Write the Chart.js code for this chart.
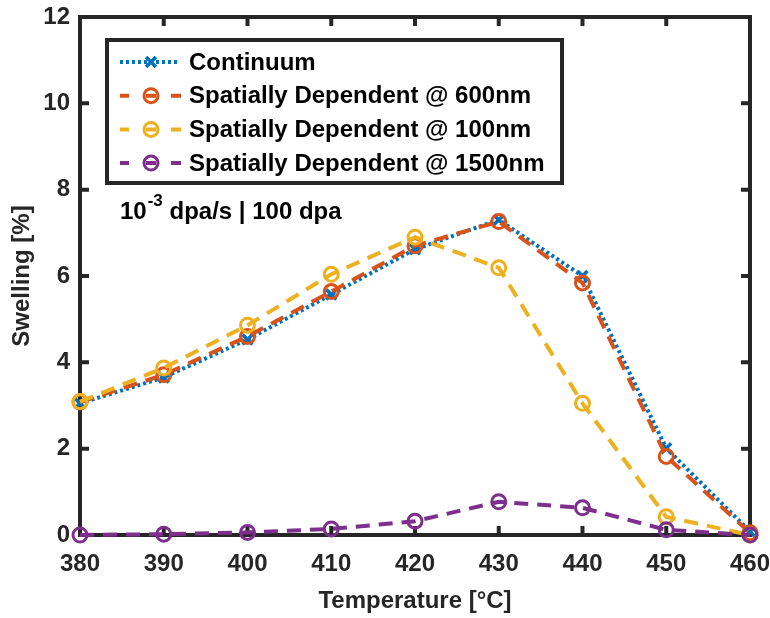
<!DOCTYPE html>
<html>
<head>
<meta charset="utf-8">
<title>Swelling vs temperature</title>
<script src="https://cdn.jsdelivr.net/npm/chart.js@4.4.1/dist/chart.umd.min.js"></script>
<style>
  html, body { margin: 0; padding: 0; background: #fff; }
  #wrap { width: 770px; height: 618px; position: relative; }
</style>
</head>
<body>
<div id="wrap"><canvas id="swell" width="770" height="618"></canvas></div>
<script>
// swelling [%] at each irradiation temperature
const temps = [380, 390, 400, 410, 420, 430, 440, 450, 460];
const continuum = [3.05, 3.65, 4.53, 5.57, 6.62, 7.3, 6.0, 2.01, 0.08];
const sd600 = [3.08, 3.71, 4.6, 5.64, 6.7, 7.26, 5.84, 1.82, 0.05];
const sd100 = [3.09, 3.87, 4.86, 6.04, 6.9, 6.19, 3.05, 0.42, 0.0];
const sd1500 = [0.0, 0.02, 0.06, 0.14, 0.32, 0.77, 0.63, 0.12, 0.0];

const seriesNames = ['Continuum', 'Spatially Dependent @ 600nm', 'Spatially Dependent @ 100nm', 'Spatially Dependent @ 1500nm'];
const seriesColors = ['#0072BD', '#D95319', '#EDB120', '#7E2F8E'];

const xTicks = [380, 390, 400, 410, 420, 430, 440, 450, 460];
const yTicks = [0, 2, 4, 6, 8, 10, 12];

const FONT = '"Liberation Sans", Arial, Helvetica, sans-serif';
const AXIS = '#262626';

const pts = arr => temps.map((t, i) => ({ x: t, y: arr[i] }));

function mkSet(i, data, dash, style){
  const isX = style === 'crossRot';
  return {
    label: seriesNames[i],
    data: pts(data),
    borderColor: seriesColors[i],
    borderWidth: 4,
    borderDash: dash,
    pointStyle: style,
    pointRadius: isX ? 7 : 7,
    pointBorderWidth: isX ? 3.5 : 3,
    pointBorderColor: seriesColors[i],
    pointBackgroundColor: 'rgba(0,0,0,0)',
    tension: 0,
    clip: false,
    order: 4 - i
  };
}

// axes box + inward ticks on all four sides
const frame = {
  id: 'frame',
  beforeDatasetsDraw(chart){
    const { ctx, chartArea: a, scales: { x, y } } = chart;
    ctx.save();
    ctx.strokeStyle = AXIS;
    ctx.lineWidth = 4;
    ctx.lineCap = 'square';
    ctx.strokeRect(a.left, a.top, a.right - a.left, a.bottom - a.top);
    ctx.lineCap = 'butt';
    ctx.beginPath();
    xTicks.slice(1, -1).forEach(v => {
      const px = x.getPixelForValue(v);
      ctx.moveTo(px, a.bottom); ctx.lineTo(px, a.bottom - 9);
      ctx.moveTo(px, a.top); ctx.lineTo(px, a.top + 9);
    });
    yTicks.slice(1, -1).forEach(v => {
      const py = y.getPixelForValue(v);
      ctx.moveTo(a.left, py); ctx.lineTo(a.left + 9, py);
      ctx.moveTo(a.right, py); ctx.lineTo(a.right - 9, py);
    });
    ctx.stroke();
    ctx.restore();
  }
};

function drawMarker(ctx, style, cx, cy, color){
  ctx.save();
  ctx.strokeStyle = color;
  ctx.setLineDash([]);
  if (style === 'crossRot'){
    ctx.lineWidth = 3.5;
    const r = 7 * Math.SQRT1_2;
    ctx.beginPath();
    ctx.moveTo(cx - r, cy - r); ctx.lineTo(cx + r, cy + r);
    ctx.moveTo(cx - r, cy + r); ctx.lineTo(cx + r, cy - r);
    ctx.stroke();
  } else {
    ctx.lineWidth = 3;
    ctx.beginPath();
    ctx.arc(cx, cy, 7, 0, Math.PI * 2);
    ctx.stroke();
  }
  ctx.restore();
}

// boxed legend and run-condition note inside the axes
const overlay = {
  id: 'overlay',
  afterDraw(chart){
    const ctx = chart.ctx;
    ctx.save();
    ctx.fillStyle = '#fff';
    ctx.fillRect(107, 40, 455, 143);
    ctx.strokeStyle = AXIS;
    ctx.lineWidth = 4;
    ctx.strokeRect(107, 40, 455, 143);

    ctx.font = 'bold 24px ' + FONT;
    ctx.textBaseline = 'middle';
    ctx.textAlign = 'left';
    seriesNames.forEach((name, i) => {
      const yy = 62 + i * 33.7;
      const c = seriesColors[i];
      ctx.strokeStyle = c;
      ctx.lineWidth = 4;
      ctx.beginPath();
      if (i === 0){
        ctx.setLineDash([3, 3]);
        ctx.moveTo(120, yy); ctx.lineTo(180, yy);
      } else {
        ctx.setLineDash([]);
        ctx.moveTo(120, yy); ctx.lineTo(129, yy);
        ctx.moveTo(146, yy); ctx.lineTo(156, yy);
        ctx.moveTo(171, yy); ctx.lineTo(181, yy);
      }
      ctx.stroke();
      drawMarker(ctx, i === 0 ? 'crossRot' : 'circle', 151, yy, c);
      ctx.fillStyle = '#000';
      ctx.fillText(name, 189, yy + 1);
    });

    ctx.fillStyle = '#000';
    ctx.textBaseline = 'alphabetic';
    ctx.font = 'bold 24px ' + FONT;
    let tx = 120;
    ctx.fillText('10', tx, 219);
    tx += ctx.measureText('10').width + 1;
    ctx.font = 'bold 17px ' + FONT;
    ctx.fillText('-3', tx, 206);
    tx += ctx.measureText('-3').width;
    ctx.font = 'bold 24px ' + FONT;
    ctx.fillText(' dpa/s | 100 dpa', tx, 219);
    ctx.restore();
  }
};

new Chart(document.getElementById('swell'), {
  type: 'line',
  data: {
    datasets: [
      mkSet(0, continuum, [3, 3], 'crossRot'),
      mkSet(1, sd600, [14, 9], 'circle'),
      mkSet(2, sd100, [14, 9], 'circle'),
      mkSet(3, sd1500, [14, 9], 'circle')
    ]
  },
  options: {
    responsive: false,
    devicePixelRatio: 1,
    animation: false,
    layout: { padding: { top: 17, right: 20, left: 0, bottom: 0 } },
    plugins: { legend: { display: false }, tooltip: { enabled: false } },
    scales: {
      x: {
        type: 'linear', min: 380, max: 460,
        afterFit: s => { s.height = 83; s.paddingLeft = 0; s.paddingRight = 0; },
        afterBuildTicks: s => { s.ticks = xTicks.map(v => ({ value: v })); },
        grid: { display: false, drawTicks: false },
        border: { display: false },
        ticks: { color: AXIS, padding: 15, maxRotation: 0, font: { family: FONT, size: 24, weight: 'bold' } },
        title: { display: true, text: 'Temperature [°C]', color: AXIS, padding: { top: 0, bottom: 2 },
                 font: { family: FONT, size: 24, weight: 'bold' } }
      },
      y: {
        type: 'linear', min: 0, max: 12,
        afterFit: s => { s.width = 80; s.paddingTop = 0; s.paddingBottom = 0; },
        afterBuildTicks: s => { s.ticks = yTicks.map(v => ({ value: v })); },
        grid: { display: false, drawTicks: false },
        border: { display: false },
        ticks: { color: AXIS, padding: 10, font: { family: FONT, size: 24, weight: 'bold' } },
        title: { display: true, text: 'Swelling [%]', color: AXIS, padding: { top: 8, bottom: 0 },
                 font: { family: FONT, size: 24, weight: 'bold' } }
      }
    }
  },
  plugins: [frame, overlay]
});
</script>
</body>
</html>
